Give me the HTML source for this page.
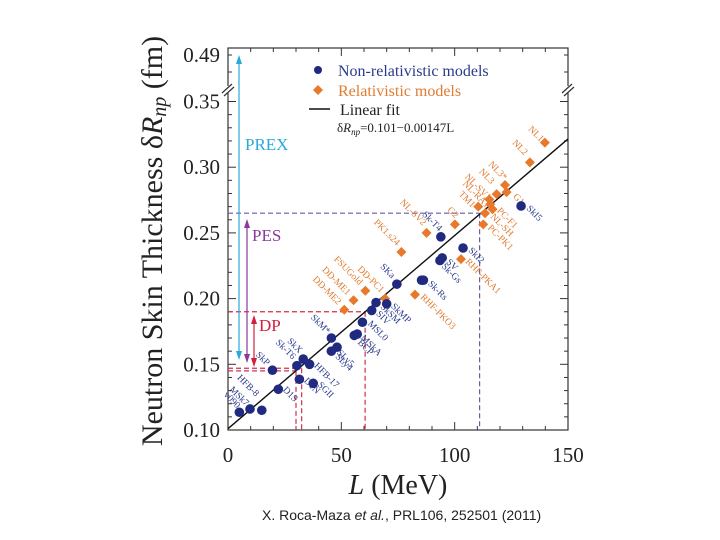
<!DOCTYPE html>
<html><head><meta charset="utf-8"><style>
html,body{margin:0;padding:0;background:#fff;width:720px;height:540px;overflow:hidden}
svg{display:block}
.tk{font-family:"Liberation Serif",serif;font-size:21px;fill:#222}
.lb{font-family:"Liberation Serif",serif;font-size:9.5px}
</style></head><body>
<svg id="chart" width="720" height="540" viewBox="0 0 720 540">
<g id="frame"></g>
<g id="guides"></g>
<g id="marks"></g>
<g id="legend">
 <circle cx="318" cy="70" r="4" fill="#1f2a80"/>
 <text x="338" y="76" font-family="Liberation Serif,serif" font-size="16" fill="#2a3a8c">Non-relativistic models</text>
 <path d="M318,85 L323,90 L318,95 L313,90Z" fill="#e8782a"/>
 <text x="338" y="96" font-family="Liberation Serif,serif" font-size="16" fill="#e07b30">Relativistic models</text>
 <line x1="309" y1="109" x2="330" y2="109" stroke="#111" stroke-width="1.5"/>
 <text x="340" y="115" font-family="Liberation Serif,serif" font-size="16" fill="#222">Linear fit</text>
 <text x="337" y="132" font-family="Liberation Serif,serif" font-size="13" fill="#222">δ<tspan font-style="italic">R<tspan font-size="9" dy="3">np</tspan></tspan><tspan dy="-3">=0.101−0.00147L</tspan></text>
</g>
<text x="162" y="241" transform="rotate(-90 162 241)" text-anchor="middle" font-family="Liberation Serif,serif" font-size="30" fill="#222">Neutron Skin Thickness δ<tspan font-style="italic">R<tspan font-size="20" dy="4">np</tspan></tspan><tspan dy="-4">  (fm)</tspan></text>
<text x="398" y="494" text-anchor="middle" font-family="Liberation Serif,serif" font-size="28" fill="#222"><tspan font-style="italic">L</tspan> (MeV)</text>
<text x="262" y="520" font-family="Liberation Sans,sans-serif" font-size="14" fill="#222">X. Roca-Maza <tspan font-style="italic">et al.</tspan>, PRL106, 252501 (2011)</text>
</svg>
<script>
const xTicks=[0,50,100,150];
const yTicks=[0.10,0.15,0.20,0.25,0.30,0.35];
const nonRelL=[5,9.7,14.9,19.6,22.2,30.4,33.2,36,31.5,37.6,45.6,45.6,48.1,55.7,57,59.3,63.4,65.3,70,74.5,85.4,86.2,93.5,94.5,103.7,93.9,129.3];
const nonRelV=[0.1135,0.116,0.115,0.1455,0.131,0.149,0.154,0.150,0.1386,0.1355,0.170,0.160,0.163,0.172,0.173,0.182,0.191,0.197,0.196,0.211,0.214,0.214,0.229,0.231,0.2385,0.247,0.2705];
const nonRelNames=["v090","MSk7","HFB-8","SkP","D1S","SkX","Sk-T6","HFB-17","D1N","SGII","SkM*","SLy5","SLy4","MSkA","BCP","MSL0","SIV","SkSM","SkMP","SKa","Sk-Rs","","SV","Sk-Gs","SkI2","Sk-T4","SkI5"];
const nonRelLabelOff=[[-16,-17],[-21,-19],[-25,-32],[-17,-15],[4,1],[-10,-24],[-28,-16],[4,2],[4,2],[4,2],[-21,-20],[5,2],[-2,10],[6,3],[0,9],[5,2],[4,4],[4,5],[4,3],[-17,-17],[6,4],[0,0],[6,2],[-1,9],[5,3],[-19,-22],[5,3]];
const relL=[139.8,133.2,122.2,122.9,118.5,115.3,115.7,110.4,116.7,113.4,100.1,112.6,87.6,76.5,102.8,82.5,69.3,60.6,55.4,51.3];
const relV=[0.3187,0.3037,0.2865,0.281,0.2795,0.2755,0.2718,0.270,0.268,0.265,0.2565,0.2565,0.250,0.2355,0.230,0.203,0.200,0.206,0.1987,0.1915];
const relNames=["NL1","NL2","NL3*","G1","NL3","NL-SV1","NL-RA1","TM1","PC-F1","NL-SH","G2","PC-PK1","NL-SV2","PK1.s24","RHF-PKA1","RHF-PKO3","DD-PC1","FSUGold","DD-ME1","DD-ME2"];
const relLabelOff=[[-17,-13],[-18,-19],[-17,-20],[6,5],[-18,-22],[-25,-22],[-28,-20],[-20,-12],[4,2],[5,4],[-8,-14],[4,4],[-27,-30],[-28,-29],[4,3],[5,3],[-28,-29],[-32,-31],[-32,-30],[-32,-30]];
const fitA=0.101, fitB=0.00147;

const NS='http://www.w3.org/2000/svg';
const X0=228,X1=568,Y0=430,Ytop=48;
function sx(L){return X0+(L/150)*(X1-X0);}
function sy(v){return Y0-(v-0.10)*1314;}
function mk(parent,tag,attrs){const e=document.createElementNS(NS,tag);for(const k in attrs)e.setAttribute(k,attrs[k]);parent.appendChild(e);return e;}
const frame=document.getElementById('frame'),guides=document.getElementById('guides'),marks=document.getElementById('marks');

let r=mk(frame,'rect',{x:X0,y:Ytop,width:X1-X0,height:Y0-Ytop,fill:'none',stroke:'#333','stroke-width':1.2});


for(let L=0;L<=150;L+=10){const maj=L%50===0;const len=maj?8:4;
 let t=mk(frame,'line',{x1:sx(L),y1:Y0,x2:sx(L),y2:Y0-len,stroke:'#333'});
 
 
 let t2=mk(frame,'line',{x1:sx(L),y1:Ytop,x2:sx(L),y2:Ytop+len,stroke:'#333'});
 
 }
xTicks.forEach(L=>{let t=mk(frame,'text',{x:sx(L),y:462,'text-anchor':'middle',class:'tk'});t.textContent=String(L);
 
 });
for(let i=0;i<=25;i++){const v=0.10+i*0.01;const maj=i%5===0;const len=maj?8:4;
 let t=mk(frame,'line',{x1:X0,y1:sy(v),x2:X0+len,y2:sy(v),stroke:'#333'});
 
 
 let t2=mk(frame,'line',{x1:X1,y1:sy(v),x2:X1-len,y2:sy(v),stroke:'#333'});
 
 }
[55,72].forEach(y=>{mk(frame,'line',{x1:X0,y1:y,x2:X0+4,y2:y,stroke:'#333'});mk(frame,'line',{x1:X1,y1:y,x2:X1-4,y2:y,stroke:'#333'});});
yTicks.forEach(v=>{let t=mk(frame,'text',{x:220,y:sy(v)+7,'text-anchor':'end',class:'tk'});t.textContent=v.toFixed(2);
 
 });
let t49=mk(frame,'text',{x:220,y:62,'text-anchor':'end',class:'tk'});t49.textContent='0.49';


[X0,X1].forEach(x=>{mk(frame,'rect',{x:x-5,y:86,width:10,height:7,fill:'#fff'});
 let b=mk(frame,'path',{d:`M${x-6},${93} L${x+4},${84} M${x-4},${96} L${x+6},${87}`,stroke:'#333','stroke-width':1.2,fill:'none'});
 
 });

function dash(x1,y1,x2,y2,c,name){let l=mk(guides,'line',{x1,y1,x2,y2,stroke:c,'stroke-width':1.2,'stroke-dasharray':'5,3'});
 
 }
dash(X0,sy(0.265),sx(111),sy(0.265),'#6a5aa8','pes-hline');
dash(sx(111),sy(0.265),sx(111),Y0,'#6a5aa8','pes-vline');
dash(X0,sy(0.19),sx(60.5),sy(0.19),'#d03050','dp-hline-upper');
dash(sx(60.5),sy(0.19),sx(60.5),Y0,'#d03050','dp-vline-upper');
dash(X0,sy(0.147),sx(32),sy(0.147),'#d03050','dp-hline-lower1');
dash(X0,sy(0.145),sx(30),sy(0.145),'#d03050','dp-hline-lower2');
dash(sx(30),sy(0.145),sx(30),Y0,'#d03050','dp-vline-lower1');
dash(sx(32.5),sy(0.147),sx(32.5),Y0,'#d03050','dp-vline-lower2');
function arrow(x,y1,y2,c,name){let g=mk(guides,'g',{});
 
 
 mk(g,'line',{x1:x,y1:y1+4,x2:x,y2:y2-4,stroke:c,'stroke-width':1.2});
 mk(g,'path',{d:`M${x},${y1} L${x-3},${y1+9} L${x+3},${y1+9}Z`,fill:c});
 mk(g,'path',{d:`M${x},${y2} L${x-3},${y2-9} L${x+3},${y2-9}Z`,fill:c});}
arrow(239,55,360,'#2aa8d8','prex-arrow');
arrow(247,219,363,'#8a3a9a','pes-arrow');
arrow(254,315,367,'#d02040','dp-arrow');
function lab(x,y,s,c,name){let t=mk(guides,'text',{x,y,'font-family':'Liberation Serif,serif','font-size':17,fill:c});t.textContent=s;
 
 }
lab(245,150,'PREX','#2aa8d8','prex-label');
lab(252,241,'PES','#8a3a9a','pes-label');
lab(259,331,'DP','#d02040','dp-label');

let fl=mk(marks,'line',{x1:sx(0),y1:sy(fitA),x2:sx(150),y2:sy(fitA+fitB*150),stroke:'#111','stroke-width':1.4});



function label(x,y,s,c){if(!s)return;let t=mk(marks,'text',{x,y,class:'lb',fill:c,transform:`rotate(45 ${x} ${y})`});t.textContent=s;
 
 }
relL.forEach((L,i)=>{const x=sx(L),y=sy(relV[i]);
 let d=mk(marks,'path',{d:`M${x},${y-5} L${x+5},${y} L${x},${y+5} L${x-5},${y}Z`,fill:'#e8782a'});
 
 
 label(x+relLabelOff[i][0],y+relLabelOff[i][1],relNames[i],'#e07b30');});
nonRelL.forEach((L,i)=>{const x=sx(L),y=sy(nonRelV[i]);
 let c=mk(marks,'circle',{cx:x,cy:y,r:4.8,fill:'#1f2a80'});
 
 
 label(x+nonRelLabelOff[i][0],y+nonRelLabelOff[i][1],nonRelNames[i],'#2a3a8c');});
</script>
</body></html>
